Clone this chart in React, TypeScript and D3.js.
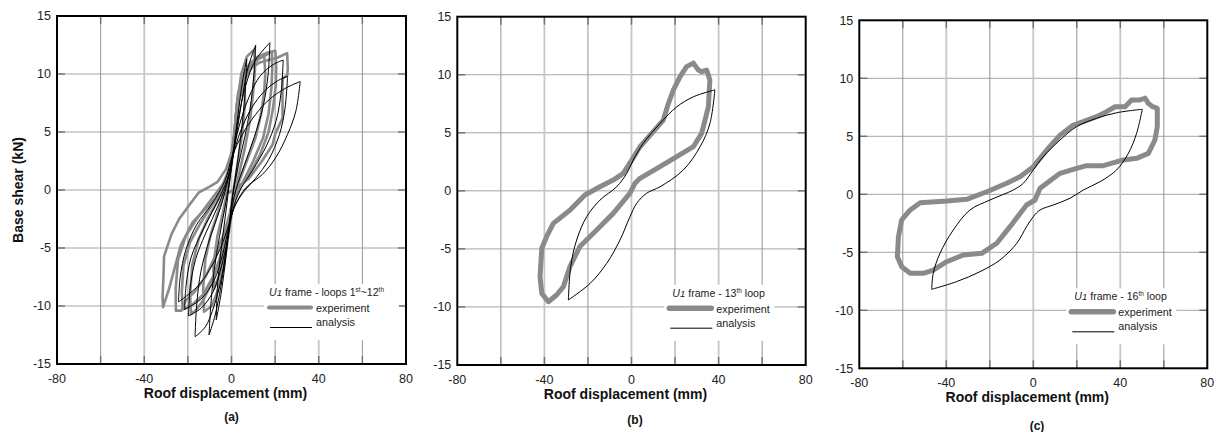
import React from 'react'
import * as d3 from 'd3'

type Pt = [number, number]
type Branches = { up: Pt[]; down: Pt[] }

const xTicks = [-80, -40, 0, 40, 80]
const yTicks = [-15, -10, -5, 0, 5, 10, 15]
const xGrid = [-60, -40, -20, 0, 20, 40, 60]
const yGrid = [-10, -5, 0, 5, 10]
const lightX = [-40, 0, 40]

// (a) experiment, loops 1st~12th
const expA: Pt[][] = [
  [[-31.4, -10.1], [-31.6, -9.2], [-31.2, -7.5], [-30.9, -5.7], [-27.5, -3.8], [-24, -2.5], [-19, -1.2], [-14.9, -0.2], [-10, 0.3], [-6.4, 0.7], [-2.5, 1.8], [0, 3.2], [1.5, 5], [2.5, 7], [3.5, 8.2], [6, 9.5], [9, 10.5], [13, 11], [17, 11.2], [21, 11.4], [25.5, 11.8], [25.8, 10.5], [25.6, 9.9], [23.4, 9.6], [23.4, 6.2], [20, 4.8], [18.8, 3.9], [14, 2.5], [8, 1], [3, 0.3], [-1, -0.2], [-5.7, -0.5], [-11.8, -1.6], [-17.9, -2.8], [-23.3, -4.8], [-28.6, -8.5], [-31.4, -10.1]],
  [[-25.5, -10.4], [-25.6, -8.5], [-24.5, -6], [-21, -4], [-16, -2.5], [-10, -1], [-4, 0.5], [-1, 1.8], [1, 4], [2, 6.5], [3, 8], [5, 9.5], [8, 10.8], [12, 11.5], [16, 11.8], [20.1, 12], [20.5, 10.5], [20.3, 9], [19, 7], [17, 5], [13, 3], [8, 1.3], [3, 0], [0, -1.5], [-3, -3.5], [-7, -5.5], [-12, -7.5], [-17, -8.8], [-21, -9.5], [-23, -10.4], [-25.5, -10.4]],
  [[-22.4, -10.3], [-22.8, -8.8], [-22, -6.5], [-19, -4.5], [-14, -2.8], [-8, -1], [-3, 0.8], [0, 2.5], [1.5, 5.2], [2.5, 7.5], [4.5, 9.2], [8, 10.5], [12.5, 11.3], [18.5, 11.9], [18.7, 10.5], [18.3, 8.8], [17, 6.6], [14.5, 4.5], [10, 2.5], [5, 0.6], [1, -1], [-1.5, -3], [-4.5, -5.5], [-8.5, -7.5], [-13, -9], [-18, -9.9], [-22.4, -10.3]],
  [[-18.5, -10.7], [-19, -9], [-18, -6.5], [-15, -4.2], [-11, -2.5], [-6, -0.8], [-2, 1], [0.5, 3.5], [1.8, 6], [3, 8.3], [5.5, 10], [9, 11], [12, 11.3], [15, 11.6], [15.5, 10], [15, 8.5], [13.5, 6.5], [11, 4.5], [7, 2.5], [3, 0.5], [0, -1.5], [-2.5, -3.8], [-5.5, -6], [-9, -8], [-13, -9.5], [-16, -10.3], [-18.5, -10.7]],
  [[-12.6, -10.5], [-13, -8.5], [-12, -6], [-9.5, -3.8], [-6, -1.8], [-2.5, 0.3], [0, 2.5], [1.5, 5], [2.8, 7.8], [4.5, 10], [7, 11.5], [10.4, 12.1], [10.8, 10.5], [10, 8.5], [8.5, 6], [6, 3.5], [3, 1], [0.5, -1.5], [-1.5, -4], [-3.5, -6.5], [-6, -8.5], [-9, -10], [-12.6, -10.5]],
  [[-8, -8.5], [-8.3, -6.5], [-6.5, -4], [-4, -2], [-1.5, 0.3], [0.5, 3], [2, 5.5], [3.5, 7.8], [6, 9.2], [6.2, 7.5], [5, 5], [3, 2.5], [1, 0], [-1, -2.5], [-3, -5], [-5.5, -7.3], [-8, -8.5]],
]

// (a) analysis
const anaA: Branches[] = [
  {
    up: [[-24.3, -9.65], [-23.5, -7.5], [-21, -5.2], [-16, -3], [-9, -1.2], [-3, 0.8], [0.5, 3.0], [5, 4.8], [11, 6.5], [17.3, 7.8], [25, 8.8], [31.5, 9.35]],
    down: [[31.5, 9.35], [29.5, 6.8], [25.7, 4.8], [20.3, 2.8], [14.2, 1.35], [6.6, 0.2], [2, -1.2], [0, -2.2], [-3, -4], [-8, -6.2], [-15, -8.2], [-24.3, -9.65]],
  },
  {
    up: [[-21.5, -10.3], [-20.8, -8.2], [-18.5, -5.8], [-13, -3.4], [-7, -1.2], [-2, 0.9], [0.5, 2.8], [4, 5], [9, 7], [15, 8.5], [21, 9.4], [25.7, 9.8]],
    down: [[25.7, 9.8], [24.5, 7], [22, 4.8], [17, 2.6], [11, 1], [5, -0.3], [1, -1.6], [-1, -3], [-4, -5.5], [-8, -7.8], [-14, -9.4], [-21.5, -10.3]],
  },
  {
    up: [[-19.7, -10.85], [-19, -8.5], [-16.5, -6], [-12, -3.8], [-6, -1.3], [-1.5, 1], [0.5, 3], [3.5, 5.5], [8, 8], [13, 9.8], [19, 10.8], [23.7, 11.2]],
    down: [[23.7, 11.2], [22.8, 8.5], [20.5, 6], [16, 3.8], [10, 1.8], [4, 0], [0.5, -1.8], [-1.5, -4], [-4.5, -6.5], [-8.5, -8.8], [-14, -10.2], [-19.7, -10.85]],
  },
  {
    up: [[-16.7, -12.65], [-16, -10], [-14, -7], [-10, -4.2], [-5, -1.5], [-1.5, 1], [0.5, 3], [3, 6], [6.5, 9], [11, 11.2], [17.6, 12.7]],
    down: [[17.6, 12.7], [16.8, 10], [14.5, 7.2], [10.5, 4.6], [6, 2.2], [2, 0], [0, -1.8], [-2, -4.5], [-4.5, -7.5], [-8, -10], [-12, -11.8], [-16.7, -12.65]],
  },
  {
    up: [[-10.3, -12.5], [-9.5, -10], [-8, -7], [-5.5, -4], [-2.5, -1], [0, 2], [2.5, 5], [5, 8], [7.5, 10.5], [11.1, 12.5]],
    down: [[11.1, 12.5], [10.3, 10], [8.5, 7], [6, 4.5], [3, 2], [0.5, -0.5], [-1, -3], [-3, -6], [-5.5, -9], [-7.8, -11], [-10.3, -12.5]],
  },
  {
    up: [[-7, -11.2], [-6.5, -8.5], [-5, -5.5], [-3, -2.5], [-1, 0.5], [1, 3.5], [3, 6.5], [5, 9.3], [7, 11.3]],
    down: [[7, 11.3], [6.3, 8.5], [4.8, 5.5], [2.8, 2.5], [0.5, -0.5], [-1.2, -3.5], [-3, -6.5], [-5, -9.2], [-7, -11.2]],
  },
]

// (b) 13th loop
const expB: Pt[][] = [
  [[28.4, 11.0], [30.7, 10.4], [32.2, 10.26], [34.5, 10.4], [36, 9.55], [35.3, 7.24], [32.2, 4.95], [28.4, 3.8], [20.8, 2.94], [13.1, 2.08], [3.9, 1.08], [1.6, 0.65], [-0.7, -0.2], [-8.4, -1.94], [-16, -3.38], [-23.7, -4.8], [-28.2, -6.5], [-31.3, -8.26], [-34.4, -8.97], [-38.2, -9.55], [-41.2, -8.83], [-42, -7.4], [-41.2, -4.95], [-39, -3.95], [-35.9, -2.8], [-28.2, -1.65], [-21.4, -0.36], [-14.5, 0.35], [-8.4, 0.93], [-3.8, 1.5], [0.1, 2.65], [3.9, 3.8], [10, 5.1], [14.6, 6.1], [16.9, 7.5], [19.2, 8.68], [22.3, 9.83], [25.3, 10.7], [28.4, 11.0]],
]
const anaB: Branches[] = [
  {
    up: [[-29, -9.4], [-27.9, -6.5], [-25.2, -4.24], [-20.6, -2.23], [-14.5, -0.8], [-6.8, 0.36], [-2.2, 1.5], [0.8, 2.65], [5.4, 4.1], [13.1, 5.8], [20.8, 7.24], [28.4, 8.1], [38.3, 8.7]],
    down: [[38.3, 8.7], [36, 5.8], [31.5, 3.8], [23.8, 1.8], [13.1, 0.35], [7, -0.2], [2.4, -1.07], [-0.7, -2.23], [-5.3, -4.24], [-11.4, -6.25], [-19, -7.97], [-29, -9.4]],
  },
]

// (c) 16th loop
const expC: Pt[][] = [
  [[51.4, 8.28], [52.9, 7.84], [54.9, 7.55], [57, 7.41], [57, 5.83], [55.9, 4.68], [52.9, 3.53], [47.5, 3.1], [41.4, 2.96], [32.2, 2.47], [24.5, 2.47], [19.9, 2.24], [12.3, 1.81], [3.1, 0.52], [0.8, -0.49], [-3.1, -0.92], [-10.7, -2.79], [-16.8, -4.22], [-23.7, -5.09], [-32.2, -5.23], [-39.8, -5.81], [-46, -6.53], [-50.6, -6.81], [-56.6, -6.81], [-60.5, -6.24], [-62.5, -5.38], [-62, -3.65], [-60.5, -2.2], [-56.6, -1.35], [-52, -0.72], [-39.8, -0.58], [-30.6, -0.43], [-21.4, 0.22], [-12.2, 0.95], [-6.1, 1.52], [0, 2.38], [6.2, 3.82], [12.3, 5.1], [18.4, 5.97], [23, 6.26], [29.1, 6.69], [33.7, 7.12], [37.6, 7.55], [42.2, 7.55], [45.2, 8.13], [49, 8.13], [51.4, 8.28]],
]
const anaC: Branches[] = [
  {
    up: [[-46.7, -8.19], [-46, -6.81], [-42.9, -5.09], [-36.8, -3.08], [-29.1, -1.35], [-19.9, -0.49], [-9.2, 0.37], [-4.6, 0.95], [0, 2.1], [4.6, 3.24], [12.3, 4.68], [19.9, 5.83], [29.1, 6.55], [38.3, 7.03], [50.1, 7.33]],
    down: [[50.1, 7.33], [47.5, 5.26], [43.7, 3.53], [38.3, 2.1], [30.7, 1.09], [23, 0.37], [16.9, -0.34], [9.2, -0.92], [3.1, -1.35], [0, -1.93], [-3.1, -2.79], [-7.6, -4.22], [-15.3, -5.66], [-24.5, -6.67], [-35.3, -7.53], [-46.7, -8.19]],
  },
]

// legend title pieces after "U1 frame - "; [text, superscript?]
const titleA: [string, boolean][] = [['loops 1', false], ['st', true], ['~12', false], ['th', true]]
const titleB: [string, boolean][] = [['13', false], ['th', true], [' loop', false]]
const titleC: [string, boolean][] = [['16', false], ['th', true], [' loop', false]]

const FONT = "'Liberation Sans', Arial, Helvetica, sans-serif"
const GRAY = '#8a8a8a'

type Frame = { l: number; t: number; r: number; b: number }

function Panel({ id, frame, exp, ana, expW, legendW, title, label, labelDx, labelDy }: {
  id: string; frame: Frame; exp: Pt[][]; ana: Branches[]; expW: number; legendW: number
  title: [string, boolean][]; label: string; labelDx: number; labelDy: number
}) {
  const { l, t, r, b } = frame
  const x = d3.scaleLinear().domain([-80, 80]).range([l, r])
  const y = d3.scaleLinear().domain([-15, 15]).range([b, t])
  const lineLin = d3.line<Pt>().x(d => x(d[0])).y(d => y(d[1]))
  const lineSmooth = d3.line<Pt>().x(d => x(d[0])).y(d => y(d[1])).curve(d3.curveCatmullRom.alpha(0.5))

  const lx = l + 212
  const ly = t + 280

  return (
    <g>
      <defs>
        <clipPath id={`clip-${id}`}>
          <rect x={l} y={t} width={r - l} height={b - t} />
        </clipPath>
      </defs>
      {yGrid.map(v => (
        <line key={`hy${v}`} x1={l} x2={r} y1={y(v)} y2={y(v)} stroke="#a6a6a6" strokeWidth={1} />
      ))}
      {xGrid.map(v => (
        <line key={`vx${v}`} x1={x(v)} x2={x(v)} y1={t} y2={b}
          stroke={lightX.includes(v) ? '#c6c6c6' : '#959595'}
          strokeWidth={lightX.includes(v) ? 1.8 : 1} />
      ))}
      {yGrid.map(v => (
        <g key={`ty${v}`}>
          <line x1={l} x2={l + 8} y1={y(v)} y2={y(v)} stroke="#707070" strokeWidth={1.4} />
          <line x1={r - 8} x2={r} y1={y(v)} y2={y(v)} stroke="#707070" strokeWidth={1.4} />
        </g>
      ))}
      {xGrid.map(v => (
        <g key={`tx${v}`}>
          <line x1={x(v)} x2={x(v)} y1={t} y2={t + 8} stroke="#707070" strokeWidth={1.4} />
          <line x1={x(v)} x2={x(v)} y1={b - 8} y2={b} stroke="#707070" strokeWidth={1.4} />
        </g>
      ))}

      {/* legend */}
      <rect x={l + 207} y={t + 268} width={legendW} height={56} fill="#fff" />
      <text x={lx + (id === 'a' ? 0 : 3)} y={ly} fontFamily={FONT} fontSize={10.6} fill="#222">
        <tspan fontStyle="italic">U</tspan>
        <tspan fontStyle="italic" fontSize={9.5}>1</tspan>
        <tspan>{' frame - '}</tspan>
        {title.map(([s, sup], i) => (
          <tspan key={i} fontSize={sup ? 6.5 : 10.6} dy={sup ? -4 : (i > 0 && title[i - 1][1] ? 4 : 0)}>{s}</tspan>
        ))}
      </text>
      <line x1={lx} x2={lx + 42} y1={t + 291.5} y2={t + 291.5} stroke={GRAY} strokeWidth={expW === 5 ? 5.5 : 4} strokeLinecap="round" />
      <text x={l + 259} y={t + 296} fontFamily={FONT} fontSize={10.8} fill="#222">experiment</text>
      <line x1={lx + 1} x2={lx + 43} y1={t + 311.5} y2={t + 311.5} stroke="#000" strokeWidth={1} />
      <text x={l + 259} y={t + 310} fontFamily={FONT} fontSize={10.8} fill="#222">analysis</text>

      <g clipPath={`url(#clip-${id})`}>
        {exp.map((loop, i) => (
          <path key={`e${i}`} d={lineLin(loop) || ''} fill="none" stroke={GRAY}
            strokeWidth={expW} strokeLinejoin="round" strokeLinecap="round" />
        ))}
        {ana.map((lp, i) => (
          <g key={`a${i}`}>
            <path d={lineSmooth(lp.up) || ''} fill="none" stroke="#000" strokeWidth={1} />
            <path d={lineSmooth(lp.down) || ''} fill="none" stroke="#000" strokeWidth={1} />
          </g>
        ))}
      </g>

      <rect x={l} y={t} width={r - l} height={b - t} fill="none" stroke="#000" strokeWidth={2} />

      {yTicks.map(v => (
        <text key={`yl${v}`} x={l - 6} y={y(v) + 4.3} textAnchor="end" fontFamily={FONT} fontSize={12.5} fill="#222">{v}</text>
      ))}
      {xTicks.map(v => (
        <text key={`xl${v}`} x={x(v)} y={b + 18.5} textAnchor="middle" fontFamily={FONT} fontSize={12.5} fill="#222">{v}</text>
      ))}
      <text x={x(0) - 6} y={b + 34} textAnchor="middle" fontFamily={FONT} fontSize={14} fontWeight="bold" fill="#111">Roof displacement (mm)</text>
      <text x={x(0) + labelDx} y={b + labelDy} textAnchor="middle" fontFamily={FONT} fontSize={12} fontWeight="bold" fill="#111">{label}</text>
    </g>
  )
}

export default function App() {
  return (
    <div style={{ position: 'absolute', left: 0, top: 0 }}>
      <svg width={1215} height={432} style={{ display: 'block', background: '#fff' }}>
        <rect width={1215} height={432} fill="#fff" />
        <Panel id="a" frame={{ l: 57, t: 16, r: 406, b: 364 }} exp={expA} ana={anaA} expW={2.6}
          legendW={135} title={titleA} label="(a)" labelDx={0} labelDy={57} />
        <Panel id="b" frame={{ l: 457.3, t: 16.7, r: 805.7, b: 365 }} exp={expB} ana={anaB} expW={5}
          legendW={110} title={titleB} label="(b)" labelDx={3.5} labelDy={59} />
        <Panel id="c" frame={{ l: 859.3, t: 20.3, r: 1207.3, b: 368.3 }} exp={expC} ana={anaC} expW={5}
          legendW={110} title={titleC} label="(c)" labelDx={3.7} labelDy={62} />
        <text transform="translate(23,190) rotate(-90)" textAnchor="middle" fontFamily={FONT}
          fontSize={14} fontWeight="bold" fill="#111">Base shear (kN)</text>
      </svg>
    </div>
  )
}
